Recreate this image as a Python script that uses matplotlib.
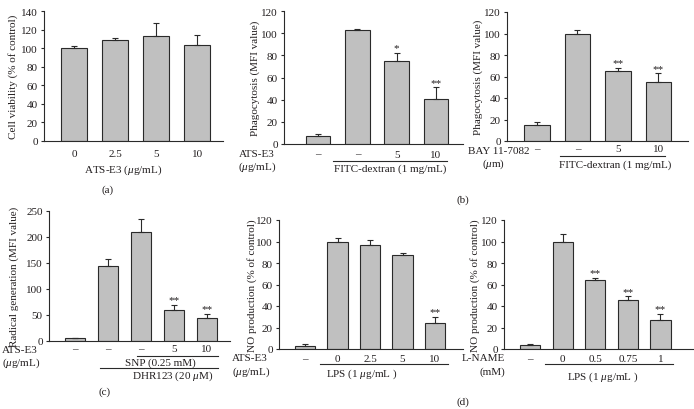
import matplotlib
matplotlib.use('Agg')
import matplotlib.pyplot as plt
from matplotlib.lines import Line2D

plt.rcParams['font.family'] = ['Liberation Serif', 'DejaVu Serif']
plt.rcParams['mathtext.fontset'] = 'custom'
plt.rcParams['mathtext.rm'] = 'Liberation Serif'
plt.rcParams['mathtext.it'] = 'Liberation Serif:italic'

# ---------------- data ----------------
a_labels = ['0', '2.5', '5', '10']
a_values = [100, 109, 113, 103]
a_errors = [2, 2, 14, 11]
a_stars = ['', '', '', '']

b1_labels = ['–', '–', '5', '10']
b1_values = [7, 103, 75, 41]
b1_errors = [2, 1, 7, 10]
b1_stars = ['', '', '*', '**']

b2_labels = ['–', '–', '5', '10']
b2_values = [15, 100, 65, 55]
b2_errors = [3, 3, 3, 8]
b2_stars = ['', '', '**', '**']

c_labels = ['–', '–', '–', '5', '10']
c_values = [5, 144, 210, 60, 44]
c_errors = [1, 13, 25, 9, 8]
c_stars = ['', '', '', '**', '**']

d1_labels = ['–', '0', '2.5', '5', '10']
d1_values = [3, 100, 97, 87, 24]
d1_errors = [2, 3, 4, 2, 6]
d1_stars = ['', '', '', '', '**']

d2_labels = ['–', '0', '0.5', '0.75', '1']
d2_values = [4, 100, 64, 46, 27]
d2_errors = [1, 7, 2, 3, 6]
d2_stars = ['', '', '**', '**', '**']

W, H = 694, 410
fig = plt.figure(figsize=(W / 100, H / 100), dpi=100)
TXT = '#231f20'
BAR = '#c0c0c0'
EDGE = '#2a2a2a'
FS = 8


def axes_px(l, t, r, b):
    return fig.add_axes([l / W, 1 - b / H, (r - l) / W, (b - t) / H])


def ftext(x, y, s, ha='center', va='center', fs=FS):
    fig.text(x / W, 1 - y / H, s, ha=ha, va=va, fontsize=fs, color=TXT)


def fline(x1, x2, y):
    fig.add_artist(Line2D([x1 / W, x2 / W], [1 - y / H, 1 - y / H],
                          color=EDGE, lw=0.8, transform=fig.transFigure))


def panel(box, labels, values, errors, stars, ylim, ystep, xlim, ylabel,
          ylab_x, tick_pad):
    ax = axes_px(*box)
    x = list(range(len(values)))
    ax.bar(x, values, width=0.62, color=BAR, edgecolor=EDGE, linewidth=0.8,
           yerr=[[0] * len(errors), errors],
           error_kw=dict(ecolor=EDGE, elinewidth=0.8, capsize=2.5, capthick=0.8))
    for xi, v, e, s in zip(x, values, errors, stars):
        if s:
            ax.text(xi, v + e + ylim * 0.005, s, ha='center', va='bottom',
                    fontsize=FS, color=TXT)
    ax.set_ylim(0, ylim)
    ax.set_xlim(*xlim)
    ax.set_yticks(range(0, ylim + 1, ystep))
    ax.set_xticks(x, labels)
    for sp in ['top', 'right']:
        ax.spines[sp].set_visible(False)
    for sp in ['left', 'bottom']:
        ax.spines[sp].set_color(EDGE)
        ax.spines[sp].set_linewidth(0.8)
    ax.tick_params(axis='y', length=2.5, width=0.8, color=EDGE, labelsize=FS,
                   labelcolor=TXT, pad=2)
    ax.tick_params(axis='x', length=0, labelsize=FS, labelcolor=TXT, pad=tick_pad)
    ax.set_facecolor('none')
    b = box
    fig.text(ylab_x / W, 1 - (b[1] + b[3]) / 2 / H, ylabel, rotation=90,
             ha='center', va='center', fontsize=FS, color=TXT)
    return ax


# (a)
panel((44, 12, 223, 142), a_labels, a_values, a_errors, a_stars, 140, 20,
      (-0.73, 3.63), 'Cell viability (% of control)', 13, 5.5)
ftext(123, 170, r'ATS-E3 ($\mu$g/mL)')
ftext(108, 190, '(a)')

# (b) left
panel((284, 12, 463, 145), b1_labels, b1_values, b1_errors, b1_stars, 120, 20,
      (-0.87, 3.69), 'Phagocytosis (MFI value)', 255, 4)
ftext(239, 155, 'ATS-E3', ha='left')
ftext(238, 167, r'($\mu$g/mL)', ha='left')
fline(333, 447, 161.5)
ftext(390, 169, 'FITC-dextran (1 mg/mL)')

# (b) right
panel((507, 13, 688, 142), b2_labels, b2_values, b2_errors, b2_stars, 120, 20,
      (-0.74, 3.73), 'Phagocytosis (MFI value)', 478, 2.5)
ftext(468, 151, 'BAY 11-7082', ha='left')
ftext(494, 164, r'($\mu$m)')
fline(560, 665, 156.5)
ftext(615, 165.5, 'FITC-dextran (1 mg/mL)')
ftext(463, 200, '(b)')

# (c)
panel((49, 212, 230, 342), c_labels, c_values, c_errors, c_stars, 250, 50,
      (-0.79, 4.7), 'Radical generation (MFI value)', 14, 2)
ftext(2, 351, 'ATS-E3', ha='left')
ftext(2, 363, r'($\mu$g/mL)', ha='left')
fline(137, 218, 356.5)
ftext(160, 363.5, 'SNP (0.25 mM)')
fline(100, 218, 368.5)
ftext(173, 376, r'DHR123 (20 $\mu$M)')
ftext(105, 392, '(c)')

# (d) left
panel((279, 221, 463, 350), d1_labels, d1_values, d1_errors, d1_stars, 120, 20,
      (-0.8, 4.86), 'NO production (% of control)', 252, 3.5)
ftext(232, 359, 'ATS-E3', ha='left')
ftext(232, 372, r'($\mu$g/mL)', ha='left')
fline(320, 448, 365)
ftext(362, 374, r'LPS (1 $\mu$g/mL )')

# (d) right
panel((504, 221, 693, 350), d2_labels, d2_values, d2_errors, d2_stars, 120, 20,
      (-0.8, 5.0), 'NO production (% of control)', 475, 3.5)
ftext(483, 359, 'L-NAME')
ftext(492, 372, '(mM)')
fline(545, 673, 365)
ftext(603, 377, r'LPS (1 $\mu$g/mL )')
ftext(463, 402, '(d)')

fig.savefig('out.png', dpi=100)
